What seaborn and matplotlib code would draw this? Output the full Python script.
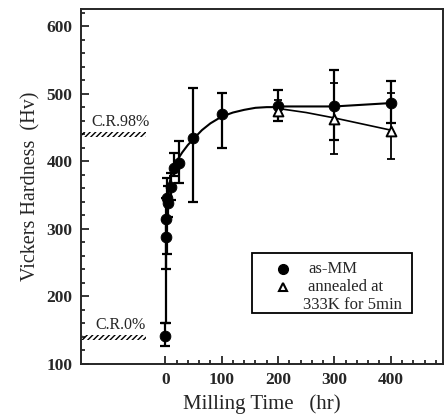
import numpy as np
import pandas as pd
import seaborn as sns
import matplotlib.pyplot as plt
from matplotlib.patches import Rectangle
from matplotlib.ticker import MultipleLocator, FixedLocator

# as-MM samples: milling time (hr), hardness (Hv), lower/upper error
mm_time = [0, 1, 2, 3, 5, 10, 15, 25, 50, 100, 200, 300, 400]
mm_hv = [142, 288, 315, 345, 338, 362, 390, 398, 435, 470, 481, 481, 486]
mm_err_lo = [15, 128, 74, 82, 20, 20, 12, 30, 96, 50, 21, 50, 29]
mm_err_hi = [18, 25, 30, 30, 25, 20, 22, 32, 73, 31, 24, 54, 33]

# annealed at 333K for 5 min
an_time = [200, 300, 400]
an_hv = [475, 463, 444]
an_err_lo = [15, 52, 41]
an_err_hi = [15, 52, 57]

# guide curves
fit_time = [3, 6, 10, 15, 20, 30, 40, 50, 65, 80, 100, 120, 140, 160, 180, 200]
fit_hv = [335, 362, 377, 390, 400, 413, 424, 433, 446, 456, 466, 472, 476, 479, 480, 480]
an_line_time = [200, 250, 300, 350, 400]
an_line_hv = [478, 472, 464, 455, 446]

# cold rolled reference levels
ref_labels = ["C.R.98%", "C.R.0%"]
ref_hv = [440, 140]

sns.set_style("ticks")
plt.rcParams['font.family'] = ['Liberation Serif', 'DejaVu Serif']

fig = plt.figure(figsize=(4.44, 4.15), dpi=100)
ax = fig.add_axes([0.182, 0.123, 0.816, 0.855])

# fitted trend + connecting lines
sns.lineplot(x=fit_time, y=fit_hv, ax=ax, color='black', lw=1.5, sort=False)
sns.lineplot(x=mm_time[-3:], y=mm_hv[-3:], ax=ax, color='black', lw=1.5, sort=False)
sns.lineplot(x=an_line_time, y=an_line_hv, ax=ax, color='black', lw=1.2, sort=False)

# error bars
ax.errorbar(mm_time, mm_hv, yerr=[mm_err_lo, mm_err_hi], fmt='none',
            ecolor='black', elinewidth=1.6, capsize=3.5, capthick=1.6, zorder=3)
ax.errorbar(an_time, an_hv, yerr=[an_err_lo, an_err_hi], fmt='none',
            ecolor='black', elinewidth=1.3, capsize=3, capthick=1.3, zorder=3)

# markers
sns.scatterplot(x=mm_time, y=mm_hv, ax=ax, marker='o', s=60, color='black',
                edgecolor='black', zorder=5)
sns.scatterplot(x=an_time, y=an_hv, ax=ax, marker='^', s=50, facecolor='white',
                edgecolor='black', linewidth=1.4, zorder=6)

# reference levels with hatched strips
for lab, hv in zip(ref_labels, ref_hv):
    ax.add_patch(Rectangle((-147, hv - 4), 112, 7, facecolor='none',
                           edgecolor='black', hatch='//////', lw=0, zorder=2))
    ax.text(-80, hv + 6, lab, ha='center', va='bottom', fontsize=11.5)

ax.set_xlim(-150, 493)
ax.set_ylim(100, 625)
ax.xaxis.set_major_locator(FixedLocator([0, 100, 200, 300, 400]))
ax.xaxis.set_minor_locator(FixedLocator(np.arange(0, 500, 20)))
ax.yaxis.set_major_locator(MultipleLocator(100))
ax.yaxis.set_minor_locator(MultipleLocator(20))
ax.tick_params(which='both', direction='in', top=False, right=False, width=1.3)
ax.tick_params(which='major', length=6, labelsize=12.5, pad=6)
ax.tick_params(which='minor', length=3)
for t in ax.get_xticklabels() + ax.get_yticklabels():
    t.set_fontweight('bold')
for s in ax.spines.values():
    s.set_linewidth(1.4)
    s.set_visible(True)

ax.set_xlabel("Milling Time   (hr)", fontsize=15)
ax.set_ylabel("Vickers Hardness  (Hv)", fontsize=14.5)

# legend box
ax.add_patch(Rectangle((0.472, 0.144), 0.442, 0.169, transform=ax.transAxes,
                       facecolor='white', edgecolor='black', lw=1.3, zorder=7))
ax.plot([0.559], [0.268], 'o', color='black', ms=7, transform=ax.transAxes, zorder=8)
ax.plot([0.559], [0.216], '^', mfc='white', mec='black', mew=1.5, ms=6,
        transform=ax.transAxes, zorder=8)
ax.text(0.627, 0.268, "as-MM", transform=ax.transAxes, va='center', fontsize=12, zorder=8)
ax.text(0.627, 0.216, "annealed at", transform=ax.transAxes, va='center', fontsize=12, zorder=8)
ax.text(0.614, 0.165, "333K for 5min", transform=ax.transAxes, va='center', fontsize=12, zorder=8)

fig.savefig("out.png", dpi=100)
